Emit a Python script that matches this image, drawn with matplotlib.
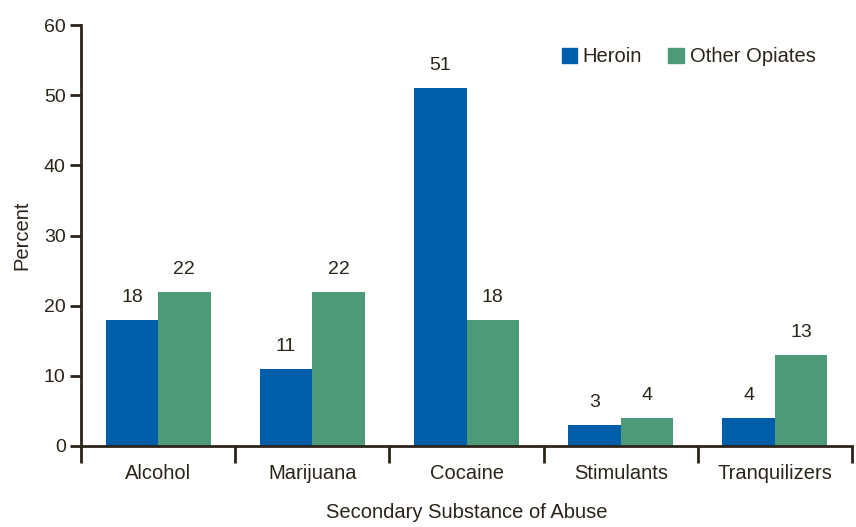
import matplotlib.pyplot as plt
import numpy as np
from matplotlib.patches import Patch

categories = ["Alcohol", "Marijuana", "Cocaine", "Stimulants", "Tranquilizers"]
heroin = [18, 11, 51, 3, 4]
other_opiates = [22, 22, 18, 4, 13]

BLUE = "#005DAA"
GREEN = "#4E9A78"
TEXT = "#2B2419"

plt.rcParams["font.family"] = ["Liberation Sans", "DejaVu Sans"]
plt.rcParams["text.color"] = TEXT

fig = plt.figure(figsize=(8.56, 5.27), dpi=100)
ax = fig.add_axes([81 / 856, 1 - 446 / 527, (852 - 81) / 856, (446 - 25) / 527])

x = np.arange(len(categories)) + 0.5
w = 0.34
ax.bar(x - w / 2, heroin, width=w, color=BLUE)
ax.bar(x + w / 2, other_opiates, width=w, color=GREEN)

for xi, h, o in zip(x, heroin, other_opiates):
    ax.text(xi - w / 2, h + 3.2, str(h), ha="center", va="center", fontsize=14)
    ax.text(xi + w / 2, o + 3.2, str(o), ha="center", va="center", fontsize=14)

ax.set_xlim(0, len(categories))
ax.set_ylim(0, 60)
ax.set_yticks(range(0, 61, 10))
ax.set_xticks(range(0, len(categories) + 1))
ax.set_xticklabels([])
ax.set_xticks(x, minor=True)
ax.set_xticklabels(categories, minor=True, fontsize=14.5)
ax.tick_params(axis="x", which="major", length=12, width=2, color=TEXT)
ax.tick_params(axis="x", which="minor", length=0, pad=13, labelcolor=TEXT)
ax.tick_params(axis="y", length=8, width=2, color=TEXT, labelsize=14, labelcolor=TEXT, pad=3)

for side in ["top", "right"]:
    ax.spines[side].set_visible(False)
for side in ["left", "bottom"]:
    ax.spines[side].set_linewidth(2)
    ax.spines[side].set_color(TEXT)
ax.spines["left"].set_bounds(0, 60)

ax.set_ylabel("Percent", fontsize=14.5, color=TEXT, labelpad=9)
ax.set_xlabel("Secondary Substance of Abuse", fontsize=14.5, color=TEXT, labelpad=14)

handles = [Patch(color=BLUE, label="Heroin"), Patch(color=GREEN, label="Other Opiates")]
ax.legend(handles=handles, loc="upper left", bbox_to_anchor=(0.6, 0.99), ncol=2,
          frameon=False, fontsize=14.5, handlelength=0.75, handleheight=0.75,
          handletextpad=0.3, columnspacing=1.3)

fig.savefig("out.png", dpi=100)
